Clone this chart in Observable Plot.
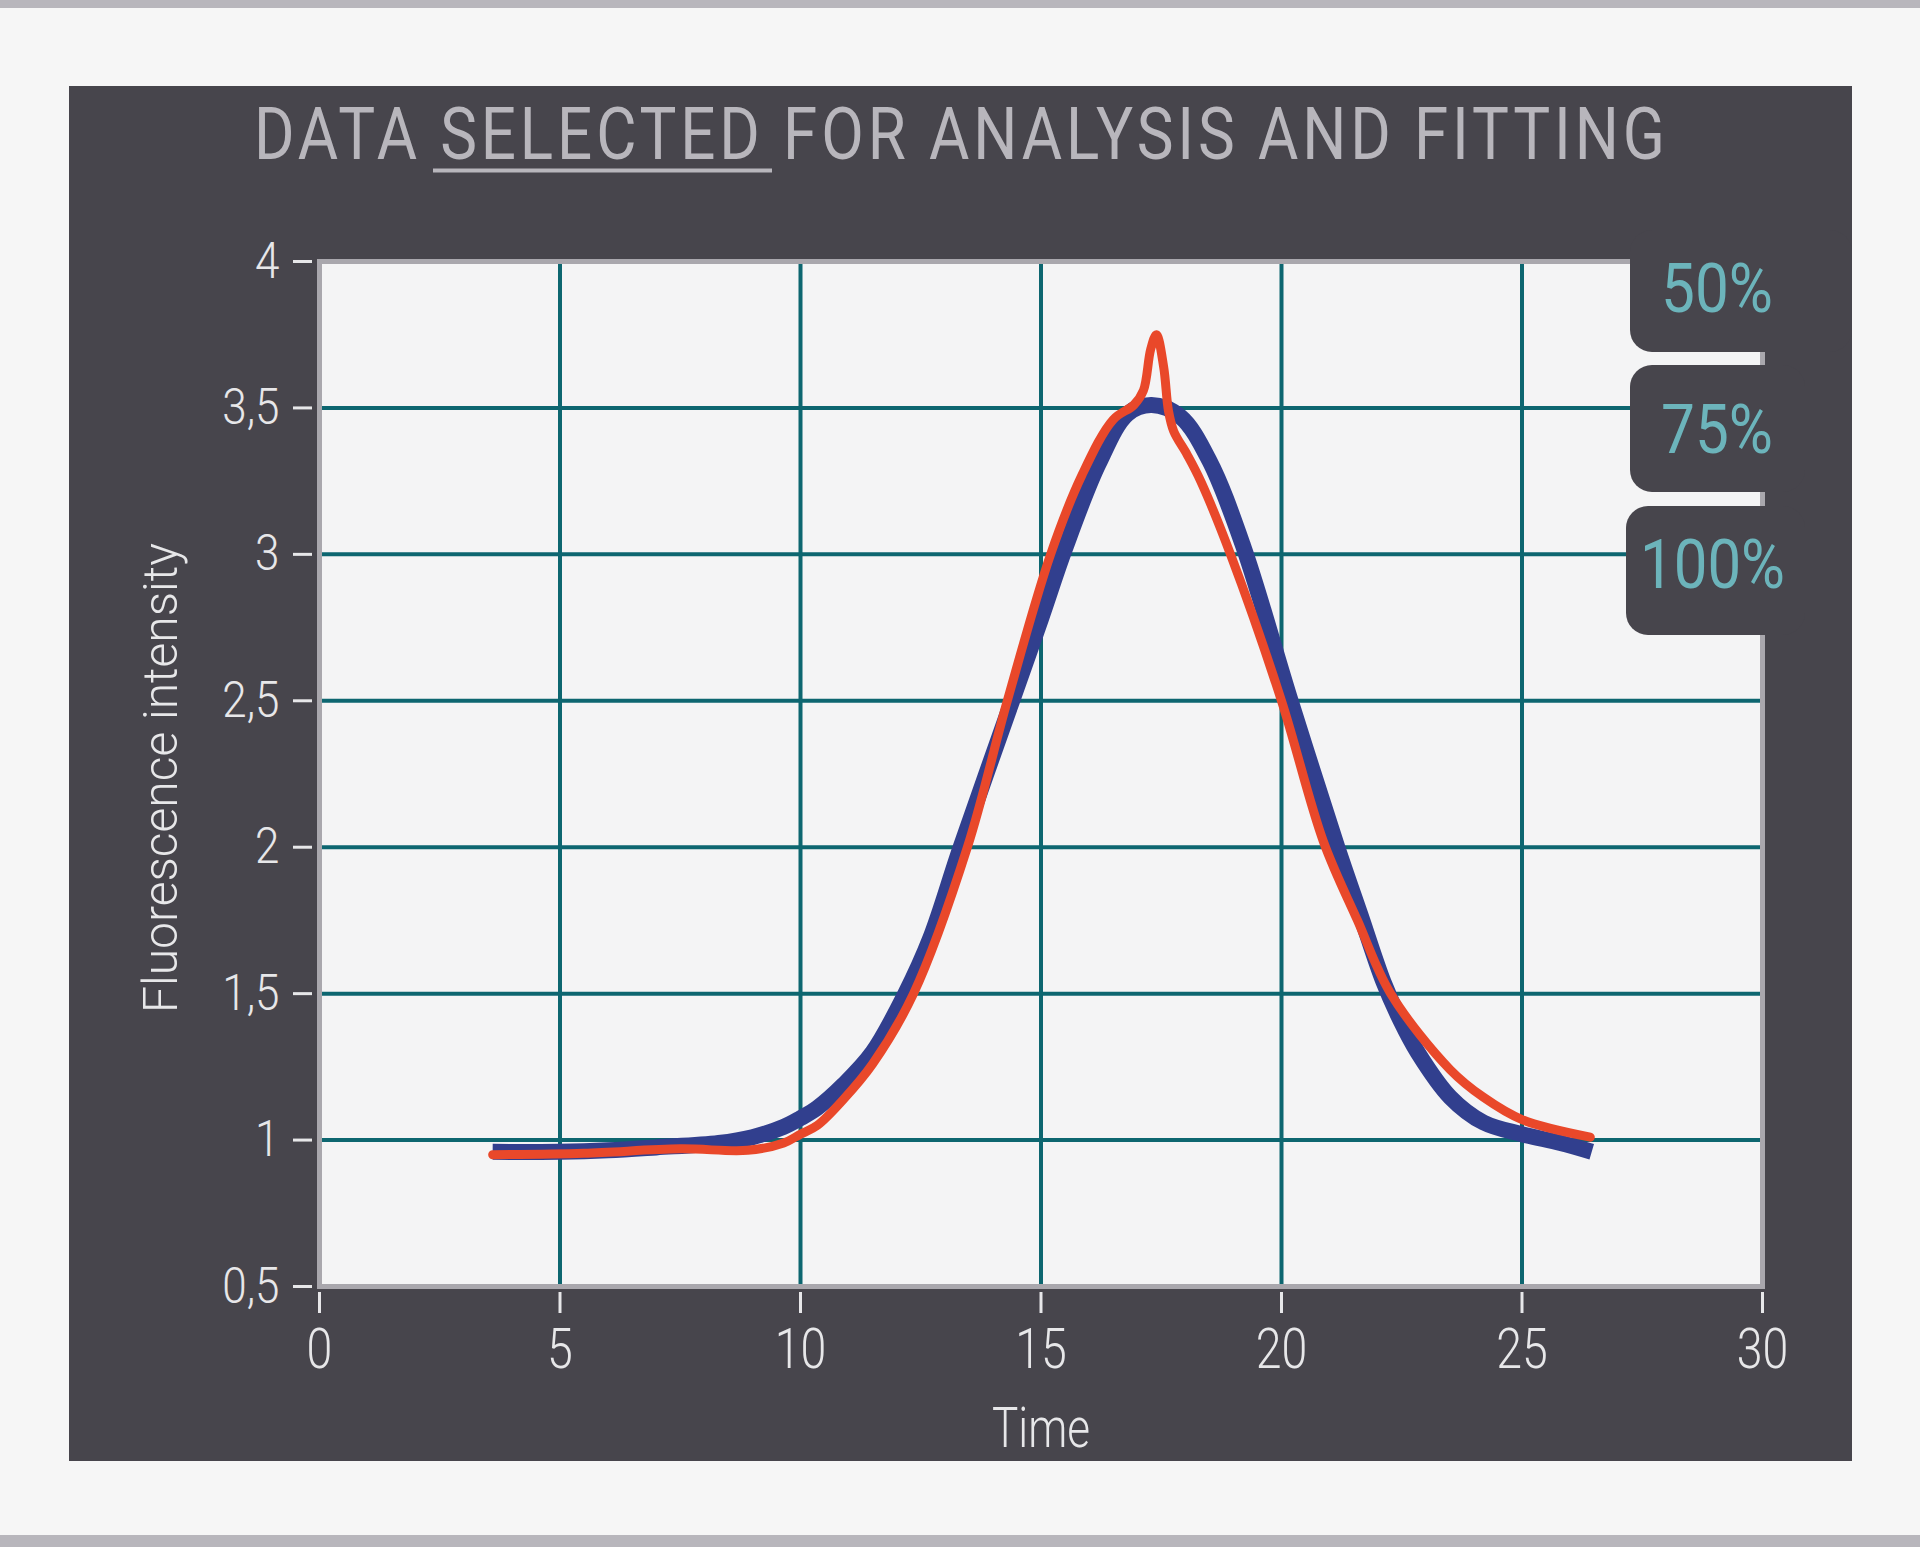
<!DOCTYPE html>
<html>
<head>
<meta charset="utf-8">
<script src="https://cdn.jsdelivr.net/npm/d3@7"></script>
<script src="https://cdn.jsdelivr.net/npm/@observablehq/plot@0.6"></script>
<style>
  html, body { margin: 0; padding: 0; }
  body { width: 1920px; height: 1547px; position: relative; overflow: hidden; background: #f6f6f6; font-family: Roboto, "Open Sans", sans-serif; }
  .band { position: absolute; left: 0; width: 1920px; background: #b8b6bc; }
  #panel { position: absolute; left: 69px; top: 86px; width: 1783px; height: 1375px; background: #47454c; }
  #chart { position: absolute; left: 0; top: 0; }
  #overlay { position: absolute; left: 0; top: 0; pointer-events: none; }
</style>
</head>
<body>
<div class="band" style="top:0;height:8px"></div>
<div class="band" style="top:1535px;height:12px"></div>
<div id="panel"></div>
<div id="chart"></div>
<svg id="overlay" width="1920" height="1547"></svg>
<script>
// ---- data ----
const fitTime  = [3.6, 5.0, 6.0, 7.0, 8.3, 9.0, 9.65, 10.0, 10.35, 10.9, 11.5, 12.18, 12.7, 13.33, 14.4, 15.0, 15.5, 16.2, 16.8, 17.3, 17.9, 18.5, 19.2, 20.19, 21.16, 21.64, 22.12, 22.47, 22.83, 23.51, 24.2, 25.0, 25.8, 26.45];
const fitValue = [0.96, 0.96, 0.965, 0.975, 0.99, 1.01, 1.045, 1.075, 1.11, 1.19, 1.3, 1.5, 1.69, 2.0, 2.5, 2.78, 3.02, 3.31, 3.48, 3.51, 3.47, 3.32, 3.03, 2.5, 2.0, 1.77, 1.54, 1.41, 1.30, 1.146, 1.06, 1.02, 0.99, 0.96];

const dataTime  = [3.6, 5.5, 7.5, 8.9, 9.65, 10.0, 10.35, 10.9, 11.5, 12.35, 13.47, 14.3, 15.2, 15.85, 16.5, 16.93, 17.13, 17.28, 17.40, 17.55, 17.65, 17.76, 18.04, 18.32, 18.94, 20.0, 20.87, 21.58, 22.27, 23.51, 24.2, 25.0, 26.42];
const dataValue = [0.95, 0.955, 0.97, 0.965, 0.99, 1.02, 1.05, 1.14, 1.26, 1.5, 2.0, 2.5, 3.0, 3.27, 3.46, 3.51, 3.56, 3.70, 3.75, 3.64, 3.49, 3.42, 3.34, 3.25, 3.0, 2.5, 2.02, 1.75, 1.5, 1.24, 1.146, 1.07, 1.01];

const xTicks = [0, 5, 10, 15, 20, 25, 30];
const yTicks = [0.5, 1, 1.5, 2, 2.5, 3, 3.5, 4];
const xGrid = [5, 10, 15, 20, 25];
const yGrid = [1, 1.5, 2, 2.5, 3, 3.5];

const titleText = ["DATA ", "SELECTED", " FOR ANALYSIS AND FITTING"];
const xLabel = "Time";
const yLabel = "Fluorescence intensity";
const tabLabels = ["50%", "75%", "100%"];

// ---- build ----
const fit = fitTime.map((t, i) => ({t, v: fitValue[i]}));
const obs = dataTime.map((t, i) => ({t, v: dataValue[i]}));
const commaFmt = v => String(v).replace(".", ",");

const plot = Plot.plot({
  width: 1920,
  height: 1547,
  marginLeft: 319,
  marginRight: 158,
  marginTop: 261,
  marginBottom: 261,
  x: {domain: [0, 30]},
  y: {domain: [0.5, 4]},
  style: {background: "transparent", color: "#e7e7e9", fontFamily: "Roboto, 'Open Sans', sans-serif", fontWeight: 300, overflow: "visible"},
  marks: [
    Plot.frame({fill: "#f4f4f5", stroke: "none"}),
    Plot.gridX(xGrid, {stroke: "#0d6670", strokeWidth: 4, strokeOpacity: 1}),
    Plot.gridY(yGrid, {stroke: "#0d6670", strokeWidth: 4, strokeOpacity: 1}),
    Plot.line(fit, {x: "t", y: "v", stroke: "#313f8e", strokeWidth: 16, curve: "catmull-rom", strokeLinecap: "butt"}),
    Plot.line(obs, {x: "t", y: "v", stroke: "#e9482a", strokeWidth: 9, curve: "catmull-rom"}),
    Plot.frame({stroke: "#a9a7ad", strokeWidth: 5}),
    Plot.axisX(xTicks, {tickSize: 21, dy: 6, tickPadding: 15, fontSize: 56, strokeWidth: 3, label: null}),
    Plot.axisY(yTicks, {tickSize: 19, dx: -7, tickPadding: 14, fontSize: 50, strokeWidth: 3, tickFormat: commaFmt, label: null})
  ]
});
document.getElementById("chart").appendChild(plot);

function condense(root, selector, factor) {
  root.querySelectorAll(selector).forEach(t => {
    const L = t.getComputedTextLength();
    if (L > 0) {
      t.setAttribute("textLength", L * factor);
      t.setAttribute("lengthAdjust", "spacingAndGlyphs");
    }
  });
}
condense(plot, 'g[aria-label="x-axis tick label"] text', 0.83);
condense(plot, 'g[aria-label="y-axis tick label"] text', 0.88);

// ---- overlay: title, axis labels, tabs ----
const ov = d3.select("#overlay");
const font = "Roboto, 'Open Sans', sans-serif";

const titleScale = 0.86;
ov.append("text")
  .attr("transform", `translate(254,159) scale(${titleScale},1)`)
  .attr("font-family", font).attr("font-size", 72).attr("font-weight", 400)
  .attr("fill", "#b8b6bc")
  .attr("textLength", 1411 / titleScale).attr("lengthAdjust", "spacing")
  .text(titleText.join(""));
ov.append("rect")
  .attr("x", 433).attr("y", 168.5).attr("width", 339).attr("height", 4)
  .attr("fill", "#b8b6bc");

ov.append("text")
  .attr("transform", "translate(177,778) rotate(-90)")
  .attr("text-anchor", "middle")
  .attr("font-family", font).attr("font-size", 49).attr("font-weight", 300)
  .attr("fill", "#e7e7e9")
  .attr("textLength", 470).attr("lengthAdjust", "spacingAndGlyphs")
  .text(yLabel);

ov.append("text")
  .attr("x", 1041).attr("y", 1447)
  .attr("text-anchor", "middle")
  .attr("font-family", font).attr("font-size", 56).attr("font-weight", 300)
  .attr("fill", "#e7e7e9")
  .attr("textLength", 98).attr("lengthAdjust", "spacingAndGlyphs")
  .text(xLabel);

const tabs = [
  {x: 1630, y: 230, w: 222, h: 122, tx: 1717, ty: 312, tl: 112},
  {x: 1630, y: 365, w: 175, h: 127, tx: 1717, ty: 453, tl: 112},
  {x: 1626, y: 506, w: 179, h: 129, tx: 1712.5, ty: 588, tl: 145}
];
tabs.forEach((tb, i) => {
  ov.append("rect")
    .attr("x", tb.x).attr("y", tb.y).attr("width", tb.w).attr("height", tb.h)
    .attr("rx", 22).attr("fill", "#47454c");
  ov.append("text")
    .attr("x", tb.tx).attr("y", tb.ty)
    .attr("text-anchor", "middle")
    .attr("font-family", font).attr("font-size", 68).attr("font-weight", 400)
    .attr("fill", "#6cb4bb")
    .attr("textLength", tb.tl).attr("lengthAdjust", "spacingAndGlyphs")
    .text(tabLabels[i]);
});
</script>
</body>
</html>
